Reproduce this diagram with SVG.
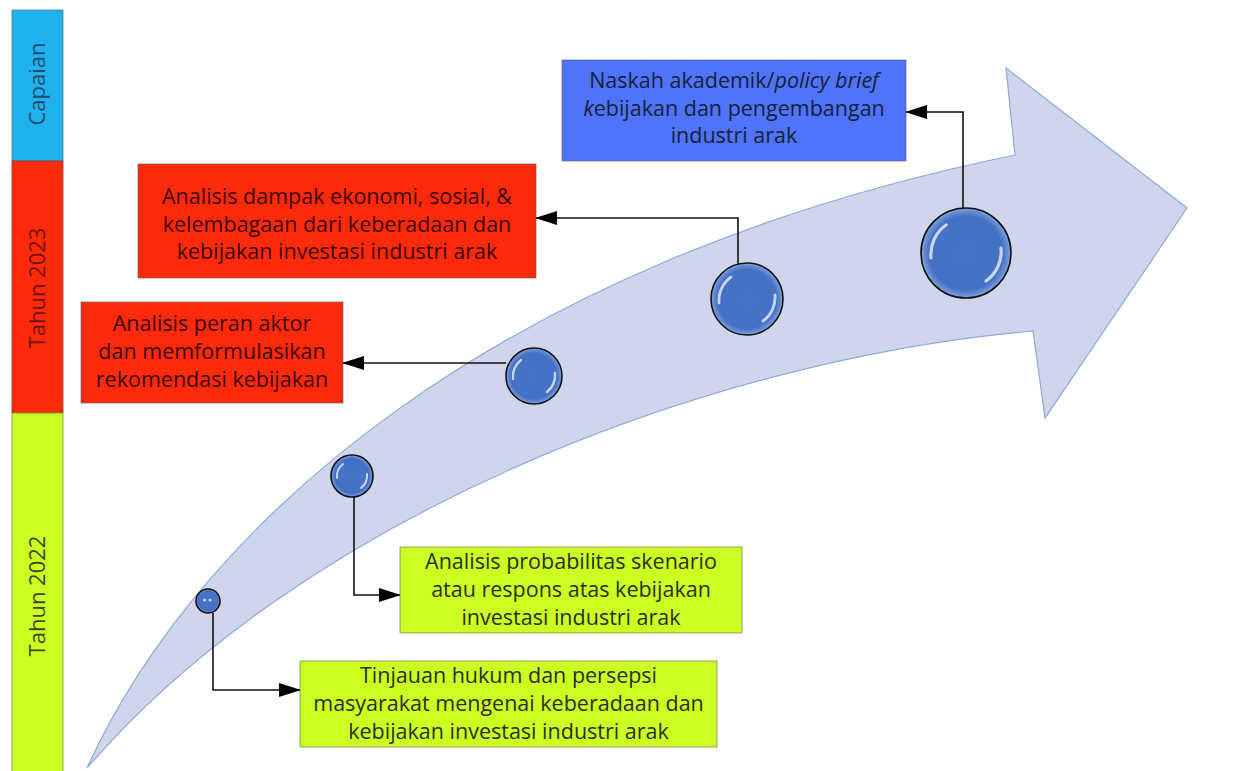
<svg xmlns="http://www.w3.org/2000/svg" width="1259" height="771" viewBox="0 0 1259 771">
<style>
.lbl{font-family:"Open Sans","Noto Sans","Liberation Sans",sans-serif;font-size:21.5px;text-anchor:middle}
.bar{font-family:"Open Sans","Noto Sans","Liberation Sans",sans-serif;font-size:22px;text-anchor:middle}
.box{stroke:#5a5a5a;stroke-opacity:0.6;stroke-width:1}
.con{fill:none;stroke:#111;stroke-width:1.6}
.orb{stroke:#111;stroke-width:1.6;fill:url(#orbG)}
.hl{fill:none;stroke:#fff;stroke-linecap:round;stroke-opacity:0.7}
</style>
<defs>
<radialGradient id="orbG" cx="0.5" cy="0.5" r="0.5">
<stop offset="0" stop-color="#4874c6"/>
<stop offset="0.82" stop-color="#4571c3"/>
<stop offset="0.94" stop-color="#6a90d6"/>
<stop offset="1" stop-color="#86a8e2"/>
</radialGradient>
<marker id="ah" markerWidth="22" markerHeight="14" refX="21" refY="7" orient="auto" markerUnits="userSpaceOnUse">
<path d="M0,0 L22,7 L0,14 Z" fill="#000"/>
</marker>
</defs>
<rect width="1259" height="771" fill="#fff"/>
<g id="timeline-bar">
<rect x="12" y="10" width="51" height="151" fill="#1fb2ee" stroke="#5b7f90" stroke-width="0.8"/>
<rect x="12" y="161" width="51" height="252" fill="#ff2a0c" stroke="#8a3a2a" stroke-width="0.8"/>
<rect x="12" y="413" width="51" height="362" fill="#ccff22" stroke="#7a9a30" stroke-width="0.8"/>
<text class="bar" transform="translate(45,84) rotate(-90)" fill="#1e4f70">Capaian</text>
<text class="bar" transform="translate(45,288) rotate(-90)" fill="#6e1404">Tahun 2023</text>
<text class="bar" transform="translate(45,596) rotate(-90)" fill="#3c4a18">Tahun 2022</text>
</g>
<g id="big-arrow">
<path d="M87,768 C200,520 500,260 1015,155 L1006,68 L1187,208 L1045,418 L1033,331 C700,360 300,520 87,768 Z" fill="#cfd5ea" stroke="#8eaad8" stroke-width="1.2"/>
</g>
<g id="connectors">
<path class="con" d="M213,613 V690 H300" marker-end="url(#ah)"/>
<path class="con" d="M354,497 V595 H400" marker-end="url(#ah)"/>
<path class="con" d="M506,363 H343" marker-end="url(#ah)"/>
<path class="con" d="M738,264 V218 H536" marker-end="url(#ah)"/>
<path class="con" d="M963,208 V112 H906" marker-end="url(#ah)"/>
</g>
<g id="orb1">
<circle class="orb" cx="208" cy="601" r="12"/>
<circle cx="204.5" cy="600" r="1.5" fill="#fff" opacity="0.75"/>
<circle cx="210" cy="600" r="1.5" fill="#fff" opacity="0.75"/>
</g>
<g id="orb2">
<circle class="orb" cx="352" cy="476" r="21"/>
<path class="hl" stroke-width="2" d="M337,478 A16,16 0 0 1 343,464"/>
<path class="hl" stroke-width="2" d="M367,474 A16,16 0 0 1 361,488"/>
</g>
<g id="orb3">
<circle class="orb" cx="534" cy="376" r="28"/>
<path class="hl" stroke-width="2.4" d="M513,379 A22,22 0 0 1 521,360"/>
<path class="hl" stroke-width="2.4" d="M555,373 A22,22 0 0 1 547,392"/>
</g>
<g id="orb4">
<circle class="orb" cx="747" cy="299" r="36"/>
<path class="hl" stroke-width="2.8" d="M719,303 A29,29 0 0 1 731,277"/>
<path class="hl" stroke-width="2.8" d="M775,295 A29,29 0 0 1 763,321"/>
</g>
<g id="orb5">
<circle class="orb" cx="966" cy="253" r="45"/>
<path class="hl" stroke-width="3.2" d="M931,258 A36,36 0 0 1 946,225"/>
<path class="hl" stroke-width="3.2" d="M1001,248 A36,36 0 0 1 986,281"/>
</g>
<g id="box-capaian">
<rect class="box" x="562" y="60" width="344" height="101" fill="#5073fb"/>
<text class="lbl" x="734" y="88" fill="#16213d">Naskah akademik/<tspan font-style="italic">policy brief</tspan></text>
<text class="lbl" x="734" y="115.5" fill="#16213d"><tspan font-style="italic">k</tspan>ebijakan dan pengembangan</text>
<text class="lbl" x="734" y="143" fill="#16213d">industri arak</text>
</g>
<g id="box-dampak">
<rect class="box" x="138" y="164" width="398" height="114" fill="#ff2a0c"/>
<text class="lbl" x="337" y="204" fill="#3d0800">Analisis dampak ekonomi, sosial, &amp;</text>
<text class="lbl" x="337" y="231.5" fill="#3d0800">kelembagaan dari keberadaan dan</text>
<text class="lbl" x="337" y="259" fill="#3d0800">kebijakan investasi industri arak</text>
</g>
<g id="box-aktor">
<rect class="box" x="81" y="302" width="262" height="101" fill="#ff2a0c"/>
<text class="lbl" x="212" y="331" fill="#3d0800">Analisis peran aktor</text>
<text class="lbl" x="212" y="359" fill="#3d0800">dan memformulasikan</text>
<text class="lbl" x="212" y="387" fill="#3d0800">rekomendasi kebijakan</text>
</g>
<g id="box-skenario">
<rect class="box" x="400" y="547" width="342" height="86" fill="#ccff22"/>
<text class="lbl" x="571" y="569" fill="#2a3014">Analisis probabilitas skenario</text>
<text class="lbl" x="571" y="597" fill="#2a3014">atau respons atas kebijakan</text>
<text class="lbl" x="571" y="625" fill="#2a3014">investasi industri arak</text>
</g>
<g id="box-hukum">
<rect class="box" x="300" y="661" width="417" height="86" fill="#ccff22"/>
<text class="lbl" x="508.5" y="683" fill="#2a3014">Tinjauan hukum dan persepsi</text>
<text class="lbl" x="508.5" y="711" fill="#2a3014">masyarakat mengenai keberadaan dan</text>
<text class="lbl" x="508.5" y="739" fill="#2a3014">kebijakan investasi industri arak</text>
</g>
</svg>
